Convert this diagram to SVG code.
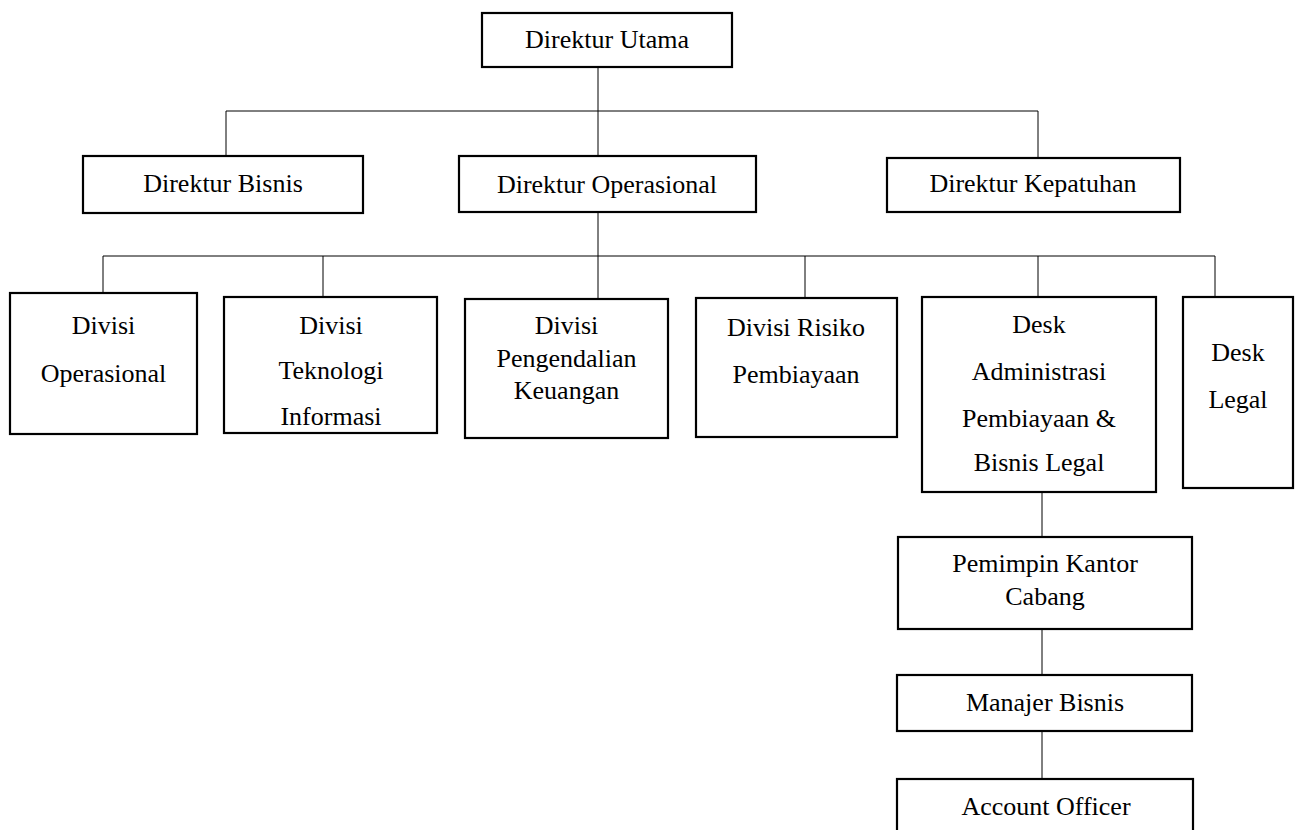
<svg xmlns="http://www.w3.org/2000/svg" width="1300" height="830" viewBox="0 0 1300 830">
<style>
.box{fill:#fff;stroke:#000;stroke-width:2.2}
.ln{fill:none;stroke:#000;stroke-width:1}
text{font-family:"Liberation Serif","Times New Roman",serif;font-size:26px;fill:#000;text-anchor:middle}
</style>
<rect width="1300" height="830" fill="#fff"/>
<g id="connectors">
<path class="ln" d="M598 67V156M226 111H1038M226 111V156M1038 111V158"/>
<path class="ln" d="M598 212V256M103 256H1215M103 256V293M323 256V297M598 256V299M805 256V298M1038 256V297M1215 256V297"/>
<path class="ln" d="M1042 492V537M1042 629V675M1042 731V779"/>
</g>
<g id="direktur-utama"><rect class="box" x="482" y="13" width="250" height="54"/><text x="607" y="48">Direktur Utama</text></g>
<g id="direktur-bisnis"><rect class="box" x="83" y="156" width="280" height="57"/><text x="223" y="192">Direktur Bisnis</text></g>
<g id="direktur-operasional"><rect class="box" x="459" y="156" width="297" height="56"/><text x="607" y="193">Direktur Operasional</text></g>
<g id="direktur-kepatuhan"><rect class="box" x="887" y="158" width="293" height="54"/><text x="1033" y="192">Direktur Kepatuhan</text></g>
<g id="divisi-operasional"><rect class="box" x="10" y="293" width="187" height="141"/><text x="103.5" y="334">Divisi</text><text x="103.5" y="382">Operasional</text></g>
<g id="divisi-ti"><rect class="box" x="224" y="297" width="213" height="136"/><text x="331" y="334">Divisi</text><text x="331" y="379">Teknologi</text><text x="331" y="425">Informasi</text></g>
<g id="divisi-pengendalian"><rect class="box" x="465" y="299" width="203" height="139"/><text x="566.5" y="334">Divisi</text><text x="566.5" y="367">Pengendalian</text><text x="566.5" y="399">Keuangan</text></g>
<g id="divisi-risiko"><rect class="box" x="696" y="298" width="201" height="139"/><text x="796" y="336">Divisi Risiko</text><text x="796" y="383">Pembiayaan</text></g>
<g id="desk-administrasi"><rect class="box" x="922" y="297" width="234" height="195"/><text x="1039" y="333">Desk</text><text x="1039" y="380">Administrasi</text><text x="1039" y="427">Pembiayaan &amp;</text><text x="1039" y="471">Bisnis Legal</text></g>
<g id="desk-legal"><rect class="box" x="1183" y="297" width="110" height="191"/><text x="1238" y="361">Desk</text><text x="1238" y="408">Legal</text></g>
<g id="pemimpin-kantor-cabang"><rect class="box" x="898" y="537" width="294" height="92"/><text x="1045" y="572">Pemimpin Kantor</text><text x="1045" y="605">Cabang</text></g>
<g id="manajer-bisnis"><rect class="box" x="897" y="675" width="295" height="56"/><text x="1045" y="711">Manajer Bisnis</text></g>
<g id="account-officer"><rect class="box" x="897" y="779" width="296" height="60"/><text x="1046" y="815">Account Officer</text></g>
</svg>
